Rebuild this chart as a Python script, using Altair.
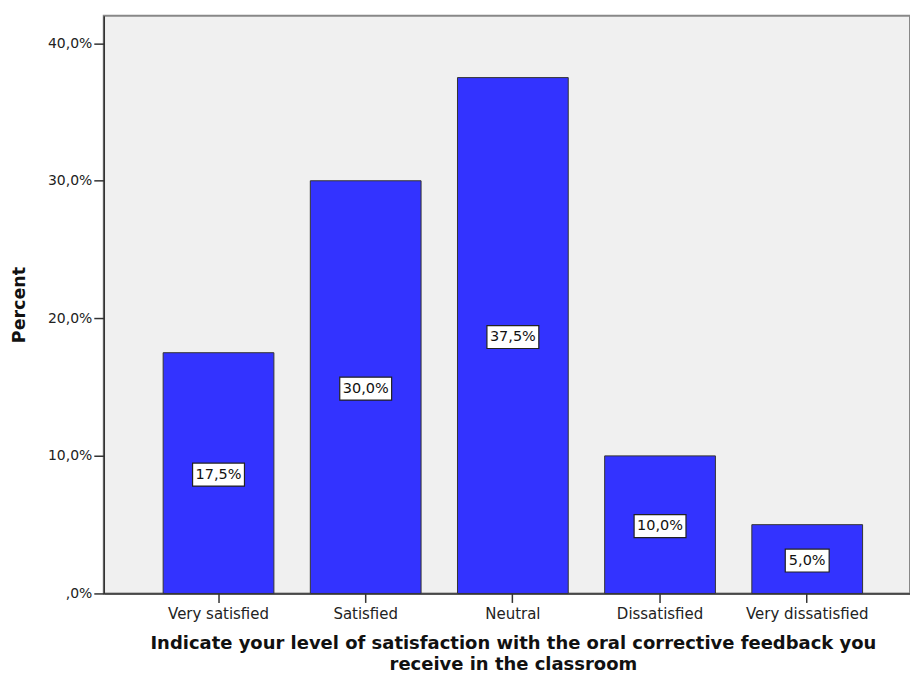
import altair as alt
import pandas as pd

categories = ["Very satisfied", "Satisfied", "Neutral", "Dissatisfied", "Very dissatisfied"]
percents = [17.5, 30.0, 37.5, 10.0, 5.0]
y_ticks = [0, 10, 20, 30, 40]

df = pd.DataFrame({"category": categories, "percent": percents})

FONT = "DejaVu Sans"

x_enc = alt.X(
    "category:N",
    sort=categories,
    scale=alt.Scale(paddingInner=0.2475, paddingOuter=0.3628, align=0.556),
    axis=alt.Axis(
        title=["Indicate your level of satisfaction with the oral corrective feedback you",
               "receive in the classroom"],
        titleFont=FONT, titleFontSize=18, titleFontWeight="bold", titleColor="#111",
        titleX=410, titleY=55, titleAlign="center", titleBaseline="alphabetic",
        titleLineHeight=21,
        labelAngle=0, labelFont=FONT, labelFontSize=15, labelColor="#222", labelPadding=4,
        tickSize=9, tickColor="#333", tickWidth=1.5,
        domainColor="#333", domainWidth=1.5,
    ),
)

y_scale = alt.Scale(domain=[0, 42], nice=False)

bars = alt.Chart(df).mark_bar(color="#3333ff", stroke="#333333", strokeWidth=1).encode(
    x=x_enc,
    y=alt.Y(
        "percent:Q",
        scale=y_scale,
        axis=alt.Axis(
            title="Percent",
            titleFont=FONT, titleFontSize=17.5, titleFontWeight="bold", titleColor="#111",
            titleX=-84, titleAlign="center", titleBaseline="middle",
            values=y_ticks, grid=False,
            labelExpr="datum.value == 0 ? ',0%' : replace(format(datum.value, '.1f'), '.', ',') + '%'",
            labelFont=FONT, labelFontSize=14, labelColor="#222", labelPadding=2,
            tickSize=10, tickColor="#333", tickWidth=1.5,
            domainColor="#333", domainWidth=1.5,
        ),
    ),
)

base = alt.Chart(df).transform_calculate(
    mid="datum.percent / 2",
    label="replace(format(datum.percent, '.1f'), '.', ',') + '%'",
).transform_calculate(
    boxw="length(datum.label) * 8 + 12"
)

boxes = base.mark_bar(
    color="white", stroke="#222222", strokeWidth=1.2, yOffset=-10, y2Offset=13
).encode(
    x=alt.X("category:N", sort=categories),
    y=alt.Y("mid:Q", scale=y_scale),
    y2="mid:Q",
    size=alt.Size("boxw:Q", scale=None, legend=None),
)

texts = base.mark_text(
    font=FONT, fontSize=14.5, color="#111", baseline="middle", dy=1.5
).encode(
    x=alt.X("category:N", sort=categories),
    y=alt.Y("mid:Q", scale=y_scale),
    text="label:N",
)

chart = alt.layer(bars, boxes, texts).properties(
    width=808,
    height=579,
    autosize=alt.AutoSizeParams(type="none"),
    padding={"left": 104, "top": 15, "right": 0, "bottom": 81},
    background="white",
).configure_view(
    fill="#f0f0f0", stroke="#888888", strokeWidth=2
)

chart.save("out.html", embed_options={"renderer": "svg", "actions": False})
